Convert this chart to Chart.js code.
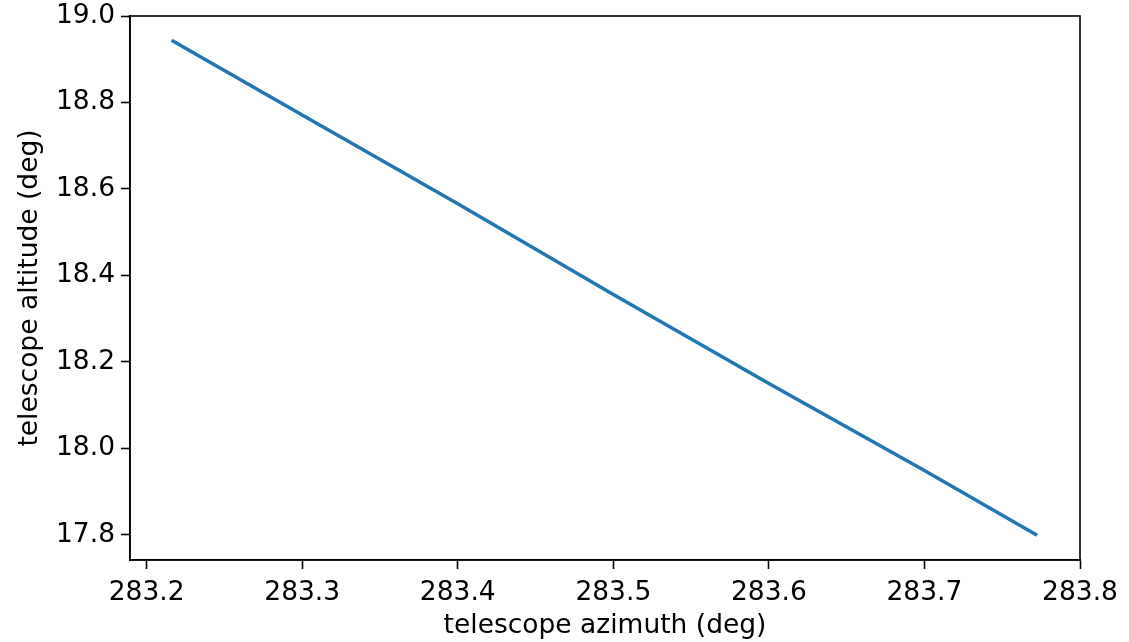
<!DOCTYPE html>
<html>
<head>
<meta charset="utf-8">
<script src="https://cdn.jsdelivr.net/npm/chart.js@4.4.1/dist/chart.umd.min.js"></script>
<style>
html,body{margin:0;padding:0;background:#fff;}
#wrap{width:1129px;height:642px;position:relative;}
</style>
</head>
<body>
<div id="wrap"><canvas id="c" width="1129" height="642"></canvas></div>
<script>
const azimuth = [283.216, 283.3, 283.4, 283.5, 283.6, 283.7, 283.7724];
const altitude = [18.944, 18.771, 18.566, 18.356, 18.150, 17.949, 17.799];
const xTicks = [283.2, 283.3, 283.4, 283.5, 283.6, 283.7, 283.8];
const yTicks = [17.8, 18.0, 18.2, 18.4, 18.6, 18.8, 19.0];
const xRange = [283.1893, 283.8];
const yRange = [17.742, 19.0];

const FONT = {family: 'DejaVu Sans', size: 26.5};

const framePlugin = {
  id: 'frame',
  afterDraw(chart) {
    const {ctx, chartArea: a} = chart;
    ctx.save();
    ctx.strokeStyle = '#000';
    ctx.lineWidth = 1.6;
    ctx.strokeRect(a.left, a.top, a.right - a.left, a.bottom - a.top);
    ctx.restore();
  }
};

new Chart(document.getElementById('c'), {
  type: 'scatter',
  data: {
    datasets: [{
      data: azimuth.map((x, i) => ({x, y: altitude[i]})),
      showLine: true,
      borderColor: '#1f77b4',
      borderWidth: 3.5,
      pointRadius: 0,
      fill: false,
      tension: 0
    }]
  },
  options: {
    responsive: false,
    animation: false,
    devicePixelRatio: 1,
    layout: {padding: {left: 0, right: 49, top: 16, bottom: 0}},
    plugins: {legend: {display: false}, tooltip: {enabled: false}},
    scales: {
      x: {
        type: 'linear',
        min: xRange[0], max: xRange[1],
        afterBuildTicks(s) { s.ticks = xTicks.map(v => ({value: v})); },
        afterFit(s) { s.height = 82; s.paddingLeft = 0; s.paddingRight = 0; },
        grid: {drawOnChartArea: false, color: '#000', tickLength: 9, tickWidth: 1.6},
        border: {display: true, color: '#000', width: 1.6},
        ticks: {color: '#000', font: FONT, padding: 8, maxRotation: 0, autoSkip: false,
          callback: v => v.toFixed(1)},
        title: {display: true, text: 'telescope azimuth (deg)', color: '#000', font: FONT, padding: {top: 0, bottom: 0}}
      },
      y: {
        type: 'linear',
        min: yRange[0], max: yRange[1],
        afterBuildTicks(s) { s.ticks = yTicks.map(v => ({value: v})); },
        afterFit(s) { s.width = 130; s.paddingTop = 0; s.paddingBottom = 0; },
        grid: {drawOnChartArea: false, color: '#000', tickLength: 9, tickWidth: 1.6},
        border: {display: true, color: '#000', width: 1.6},
        ticks: {color: '#000', font: FONT, padding: 6, autoSkip: false,
          callback: v => v.toFixed(1)},
        title: {display: true, text: 'telescope altitude (deg)', color: '#000', font: FONT, padding: {top: 14, bottom: 0}}
      }
    }
  },
  plugins: [framePlugin]
});
</script>
</body>
</html>
